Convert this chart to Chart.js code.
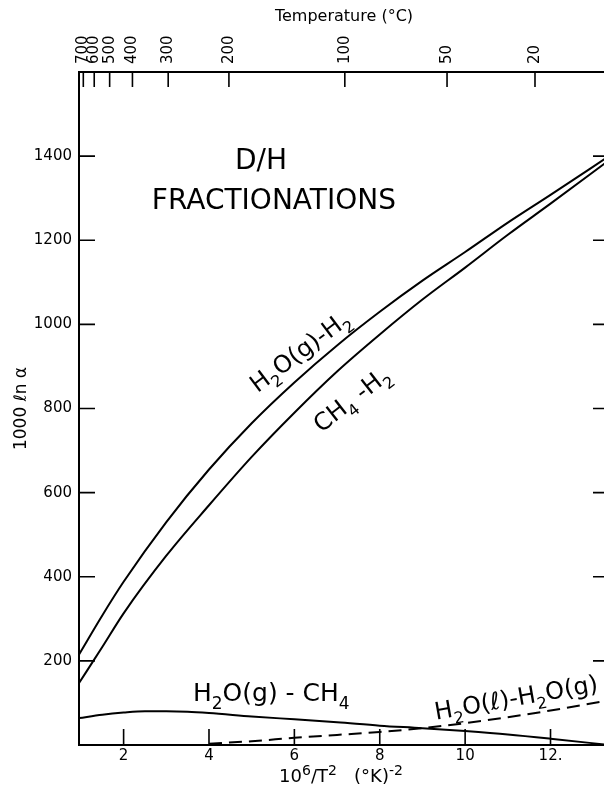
<!DOCTYPE html>
<html><head><meta charset="utf-8">
<script src="https://cdn.jsdelivr.net/npm/chart.js@4.4.0/dist/chart.umd.min.js"></script>
<style>
html,body{margin:0;padding:0;overflow:hidden;background:#fff;width:604px;height:793px}
#wrap{position:relative;width:612px;height:793px}
</style></head>
<body><div id="wrap"><canvas id="c" width="612" height="793"></canvas></div>
<script>
// ---- data ----
const curveX      = [0.96, 1.5, 2, 3, 4, 5, 6, 7, 8, 9, 10, 11, 12, 13.37];
const h2oGasH2    = [216, 308, 388, 530, 655, 765, 862, 950, 1030, 1104, 1172, 1242, 1308, 1400];
const ch4H2       = [148, 233, 313, 450, 570, 685, 790, 888, 976, 1059, 1135, 1213, 1287, 1390];
const gasCh4X     = [0.96, 1.5, 2, 2.5, 3, 3.5, 4, 5, 6, 7, 8, 9, 10, 11, 12, 13.37];
const h2oGasCh4   = [64, 72, 77, 80, 80, 79, 76, 68, 61, 54, 46, 40, 33, 25, 15, 0];
const liqGasX     = [4, 5, 6, 7, 8, 9, 10, 11, 12, 13.37];
const h2oLiqGas   = [3, 9, 17, 24, 31, 40, 52, 66, 82, 106];
const xTicks      = [2, 4, 6, 8, 10, 12];
const xTickText   = ['2', '4', '6', '8', '10', '12.'];
const yTicks      = [200, 400, 600, 800, 1000, 1200, 1400];
const tempTicksC  = [700, 600, 500, 400, 300, 200, 100, 50, 20];

const X_MIN = 0.955, X_MAX = 13.37, Y_MIN = 0, Y_MAX = 1600;
const toX = c => 1e6 / Math.pow(c + 273.15, 2);
const tempPos = tempTicksC.map(toX);

const pts = (xs, ys) => xs.map((x, i) => ({x, y: ys[i]}));
const FONT = "'DejaVu Sans', sans-serif";

// text annotations: segments [text, 0 normal / 1 subscript / 2 superscript]
const labels = [
  {seg: [['D/H', 0]], x: 5.22, y: 1394, a: 0, s: 28, al: 'center'},
  {seg: [['FRACTIONATIONS', 0]], x: 5.52, y: 1299, a: 0, s: 28, al: 'center'},
  {seg: [['H', 0], ['2', 1], ['O(g)-H', 0], ['2', 1]], x: 6.12, y: 937, a: -37, s: 24, al: 'center'},
  {seg: [['CH', 0], ['4', 1], [' -H', 0], ['2', 1]], x: 7.33, y: 823, a: -38, s: 24, al: 'center'},
  {seg: [['H', 0], ['2', 1], ['O(g) - CH', 0], ['4', 1]], x: 5.46, y: 126, a: 0, s: 25, al: 'center'},
  {seg: [['H', 0], ['2', 1], ['O(ℓ)-H', 0], ['2', 1], ['O(g)', 0]], x: 9.28, y: 80, a: -10, s: 24, al: 'left'}
];
const xTitleSeg = [['10', 0], ['6', 2], ['/T', 0], ['2', 2], ['   (°K)', 0], ['-2', 2]];

function drawRich(ctx, seg, px, py, ang, size, align, ratio) {
  const r = ratio || 0.68;
  const big = size + 'px ' + FONT, small = Math.round(size * r) + 'px ' + FONT;
  let w = 0;
  seg.forEach(([t, k]) => { ctx.font = k ? small : big; w += ctx.measureText(t).width; });
  ctx.save();
  ctx.translate(px, py);
  ctx.rotate(ang * Math.PI / 180);
  let cx = align === 'center' ? -w / 2 : 0;
  const capH = size * 0.36;
  seg.forEach(([t, k]) => {
    ctx.font = k ? small : big;
    const dy = k === 1 ? size * 0.3 : (k === 2 ? -size * 0.42 : 0);
    ctx.fillText(t, cx, capH + dy);
    cx += ctx.measureText(t).width;
  });
  ctx.restore();
}

const inwardTicks = {
  id: 'inwardTicks',
  afterDraw(chart) {
    const ctx = chart.ctx, a = chart.chartArea, s = chart.scales;
    ctx.save();
    ctx.strokeStyle = '#000';
    ctx.lineWidth = 1.6;
    ctx.beginPath();
    xTicks.forEach(v => { const p = s.x.getPixelForValue(v); ctx.moveTo(p, a.bottom); ctx.lineTo(p, a.bottom - 16); });
    tempPos.forEach(v => { const p = s.xTop.getPixelForValue(v); ctx.moveTo(p, a.top); ctx.lineTo(p, a.top + 15); });
    yTicks.forEach(v => { const p = s.y.getPixelForValue(v); ctx.moveTo(a.left, p); ctx.lineTo(a.left + 16, p); });
    yTicks.forEach(v => { const p = s.y.getPixelForValue(v); ctx.moveTo(a.right, p); ctx.lineTo(a.right - 16, p); });
    ctx.stroke();
    ctx.fillStyle = '#000';
    ctx.textBaseline = 'alphabetic';
    labels.forEach(L => {
      drawRich(ctx, L.seg, s.x.getPixelForValue(L.x), s.y.getPixelForValue(L.y), L.a, L.s, L.al);
    });
    // bottom axis title, centred under the plot
    drawRich(ctx, xTitleSeg, 341, 776, 0, 18, 'center', 0.75);
    ctx.restore();
  }
};

const lineDs = (data, dash) => ({
  data, borderColor: '#000', borderWidth: 2, pointRadius: 0, fill: false,
  cubicInterpolationMode: 'monotone', borderDash: dash || [], xAxisID: 'x', yAxisID: 'y'
});

new Chart(document.getElementById('c'), {
  type: 'line',
  data: {
    datasets: [
      lineDs(pts(curveX, h2oGasH2)),
      lineDs(pts(curveX, ch4H2)),
      lineDs(pts(gasCh4X, h2oGasCh4)),
      lineDs(pts(liqGasX, h2oLiqGas), [13, 7])
    ]
  },
  options: {
    responsive: false, animation: false, devicePixelRatio: 1,
    layout: {padding: 0},
    plugins: {legend: {display: false}, tooltip: {enabled: false}},
    scales: {
      x: {
        type: 'linear', position: 'bottom', min: X_MIN, max: X_MAX,
        afterBuildTicks: sc => { sc.ticks = xTicks.map(v => ({value: v})); },
        afterFit: sc => { sc.height = 48; },
        ticks: {color: '#000', font: {family: FONT, size: 15}, padding: 2,
                callback: v => xTickText[xTicks.indexOf(v)], maxRotation: 0, autoSkip: false},
        grid: {display: false, drawTicks: false},
        border: {display: true, color: '#000', width: 2},
        title: {display: false}
      },
      xTop: {
        type: 'linear', position: 'top', min: X_MIN, max: X_MAX,
        afterBuildTicks: sc => { sc.ticks = tempPos.map(v => ({value: v})); },
        afterFit: sc => { sc.height = 72; },
        ticks: {color: '#000', font: {family: FONT, size: 15}, padding: 8, labelOffset: 18,
                minRotation: 90, maxRotation: 90, autoSkip: false,
                callback: v => String(tempTicksC[tempPos.indexOf(v)])},
        grid: {display: false, drawTicks: false},
        border: {display: true, color: '#000', width: 2},
        title: {display: true, text: 'Temperature (°C)', color: '#000',
                font: {family: FONT, size: 16}, padding: {top: 7, bottom: 0}}
      },
      y: {
        type: 'linear', position: 'left', min: Y_MIN, max: Y_MAX,
        afterBuildTicks: sc => { sc.ticks = yTicks.map(v => ({value: v})); },
        afterFit: sc => { sc.width = 79; },
        ticks: {color: '#000', font: {family: FONT, size: 15}, padding: 7, callback: v => String(v)},
        grid: {display: false, drawTicks: false},
        border: {display: true, color: '#000', width: 2},
        title: {display: true, text: '1000 ℓn α', color: '#000',
                font: {family: FONT, size: 17}, padding: {top: 11, bottom: 0}}
      },
      yRight: {
        type: 'linear', position: 'right', min: Y_MIN, max: Y_MAX,
        afterFit: sc => { sc.width = 3; },
        ticks: {display: false},
        grid: {display: false, drawTicks: false},
        border: {display: true, color: '#000', width: 2}
      }
    }
  },
  plugins: [inwardTicks]
});
</script>
</body></html>
